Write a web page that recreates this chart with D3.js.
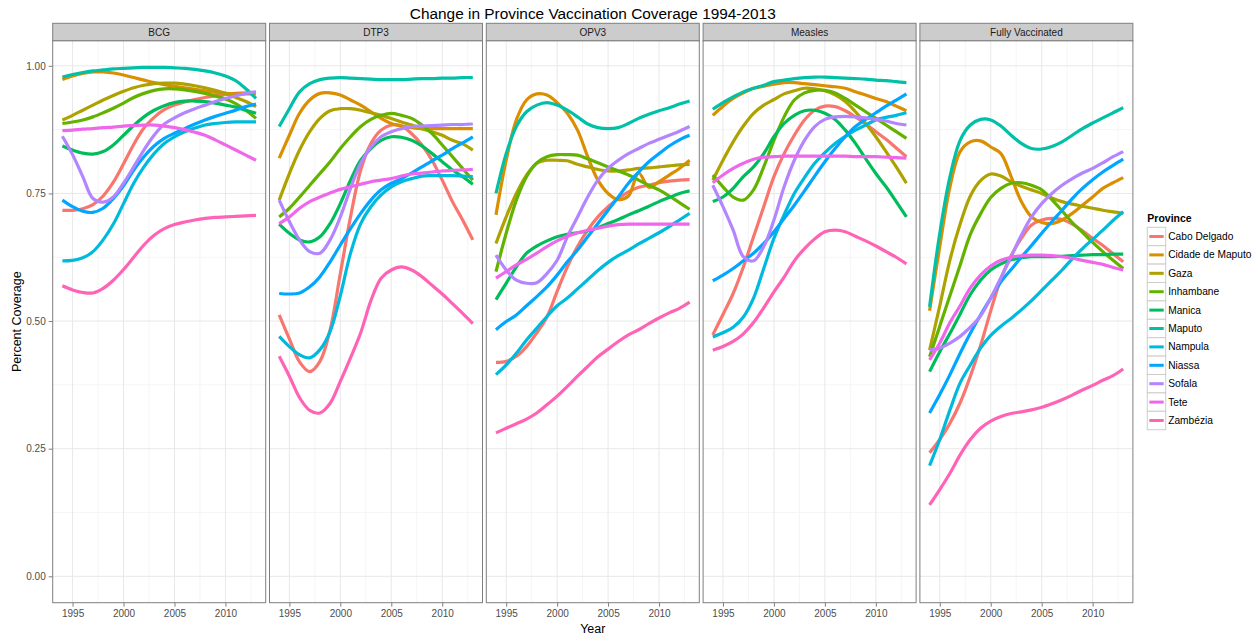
<!DOCTYPE html>
<html>
<head>
<meta charset="utf-8">
<script src="https://cdnjs.cloudflare.com/ajax/libs/d3/7.8.5/d3.min.js"></script>
<style>
  body { margin: 0; background: #fff; }
  text { font-family: "Liberation Sans", Arial, sans-serif; }
</style>
</head>
<body>
<div id="chart"></div>
<script>
// data
const years = [1994, 1995, 1996, 1997, 1998, 1999, 2000, 2001, 2002, 2003,
               2004, 2005, 2006, 2007, 2008, 2009, 2010, 2011, 2012, 2013];

const provinces = ["Cabo Delgado", "Cidade de Maputo", "Gaza", "Inhambane", "Manica",
                   "Maputo", "Nampula", "Niassa", "Sofala", "Tete", "Zambézia"];

const vaccines = ["BCG", "DTP3", "OPV3", "Measles", "Fully Vaccinated"];

const yTicks = [0, 0.25, 0.5, 0.75, 1];
const xTicks = [1995, 2000, 2005, 2010];

// smoothed coverage, one row per province (same order as provinces)
const bcg = [
  [0.717, 0.717, 0.720, 0.728, 0.745, 0.772, 0.808, 0.846, 0.878, 0.899, 0.914, 0.923, 0.929, 0.934, 0.938, 0.941, 0.944, 0.946, 0.947, 0.947],
  [0.973, 0.980, 0.985, 0.988, 0.988, 0.986, 0.982, 0.977, 0.972, 0.967, 0.963, 0.960, 0.957, 0.954, 0.951, 0.948, 0.946, 0.945, 0.945, 0.945],
  [0.894, 0.903, 0.913, 0.923, 0.933, 0.942, 0.950, 0.957, 0.962, 0.965, 0.966, 0.966, 0.964, 0.961, 0.957, 0.952, 0.946, 0.938, 0.930, 0.920],
  [0.887, 0.890, 0.894, 0.900, 0.908, 0.917, 0.927, 0.938, 0.946, 0.952, 0.955, 0.955, 0.953, 0.950, 0.946, 0.941, 0.935, 0.926, 0.913, 0.897],
  [0.843, 0.835, 0.829, 0.827, 0.832, 0.845, 0.864, 0.883, 0.900, 0.913, 0.922, 0.928, 0.931, 0.931, 0.930, 0.927, 0.923, 0.919, 0.913, 0.907],
  [0.978, 0.983, 0.987, 0.990, 0.992, 0.994, 0.995, 0.996, 0.997, 0.997, 0.997, 0.996, 0.995, 0.993, 0.990, 0.986, 0.980, 0.971, 0.955, 0.936],
  [0.618, 0.619, 0.624, 0.636, 0.659, 0.690, 0.730, 0.770, 0.802, 0.828, 0.848, 0.861, 0.871, 0.878, 0.884, 0.887, 0.889, 0.890, 0.890, 0.890],
  [0.737, 0.724, 0.715, 0.713, 0.721, 0.740, 0.765, 0.796, 0.822, 0.843, 0.858, 0.868, 0.877, 0.886, 0.894, 0.901, 0.907, 0.913, 0.920, 0.925],
  [0.862, 0.826, 0.783, 0.740, 0.733, 0.743, 0.770, 0.802, 0.835, 0.864, 0.886, 0.898, 0.908, 0.916, 0.923, 0.930, 0.936, 0.941, 0.946, 0.949],
  [0.873, 0.874, 0.876, 0.877, 0.879, 0.880, 0.882, 0.883, 0.884, 0.884, 0.882, 0.879, 0.875, 0.870, 0.864, 0.855, 0.845, 0.835, 0.825, 0.815],
  [0.569, 0.561, 0.556, 0.555, 0.564, 0.580, 0.601, 0.625, 0.649, 0.668, 0.681, 0.689, 0.694, 0.698, 0.701, 0.703, 0.704, 0.705, 0.706, 0.707]
];

const dtp3 = [
  [0.512, 0.465, 0.420, 0.401, 0.421, 0.483, 0.593, 0.704, 0.796, 0.848, 0.874, 0.884, 0.882, 0.867, 0.845, 0.815, 0.776, 0.734, 0.698, 0.659],
  [0.819, 0.864, 0.907, 0.933, 0.946, 0.947, 0.943, 0.933, 0.923, 0.910, 0.897, 0.887, 0.882, 0.879, 0.877, 0.877, 0.877, 0.877, 0.877, 0.877],
  [0.737, 0.789, 0.835, 0.871, 0.897, 0.912, 0.916, 0.916, 0.913, 0.908, 0.903, 0.897, 0.890, 0.884, 0.877, 0.871, 0.864, 0.854, 0.847, 0.835],
  [0.704, 0.721, 0.743, 0.766, 0.789, 0.812, 0.838, 0.861, 0.881, 0.895, 0.903, 0.907, 0.903, 0.897, 0.884, 0.867, 0.845, 0.822, 0.799, 0.776],
  [0.690, 0.672, 0.659, 0.655, 0.665, 0.691, 0.730, 0.776, 0.815, 0.838, 0.854, 0.861, 0.860, 0.854, 0.843, 0.828, 0.812, 0.796, 0.783, 0.768],
  [0.881, 0.916, 0.949, 0.965, 0.973, 0.976, 0.977, 0.976, 0.975, 0.974, 0.973, 0.973, 0.973, 0.974, 0.975, 0.975, 0.976, 0.976, 0.977, 0.977],
  [0.470, 0.450, 0.434, 0.428, 0.444, 0.480, 0.550, 0.633, 0.691, 0.724, 0.747, 0.763, 0.773, 0.779, 0.784, 0.785, 0.785, 0.785, 0.784, 0.783],
  [0.554, 0.553, 0.555, 0.567, 0.587, 0.616, 0.649, 0.681, 0.711, 0.737, 0.757, 0.770, 0.779, 0.790, 0.802, 0.814, 0.825, 0.838, 0.849, 0.861],
  [0.737, 0.695, 0.659, 0.636, 0.633, 0.659, 0.704, 0.760, 0.809, 0.841, 0.861, 0.871, 0.877, 0.881, 0.882, 0.883, 0.884, 0.885, 0.885, 0.886],
  [0.691, 0.704, 0.721, 0.734, 0.743, 0.751, 0.758, 0.763, 0.768, 0.773, 0.776, 0.779, 0.784, 0.788, 0.790, 0.792, 0.794, 0.795, 0.796, 0.797],
  [0.431, 0.392, 0.350, 0.325, 0.320, 0.339, 0.382, 0.428, 0.477, 0.540, 0.584, 0.600, 0.606, 0.600, 0.587, 0.570, 0.553, 0.534, 0.515, 0.495]
];

const opv3 = [
  [0.419, 0.421, 0.431, 0.450, 0.477, 0.508, 0.558, 0.606, 0.646, 0.678, 0.704, 0.724, 0.740, 0.753, 0.762, 0.766, 0.771, 0.774, 0.776, 0.777],
  [0.708, 0.815, 0.894, 0.933, 0.945, 0.943, 0.928, 0.907, 0.874, 0.822, 0.776, 0.750, 0.738, 0.745, 0.790, 0.762, 0.773, 0.786, 0.799, 0.815],
  [0.652, 0.704, 0.750, 0.786, 0.809, 0.815, 0.815, 0.814, 0.807, 0.802, 0.797, 0.794, 0.794, 0.796, 0.799, 0.800, 0.802, 0.804, 0.806, 0.807],
  [0.597, 0.672, 0.737, 0.783, 0.810, 0.822, 0.826, 0.826, 0.825, 0.818, 0.810, 0.802, 0.794, 0.786, 0.776, 0.766, 0.757, 0.745, 0.732, 0.719],
  [0.542, 0.574, 0.606, 0.633, 0.647, 0.657, 0.665, 0.670, 0.673, 0.677, 0.683, 0.691, 0.699, 0.708, 0.716, 0.725, 0.734, 0.742, 0.750, 0.755],
  [0.750, 0.828, 0.881, 0.910, 0.923, 0.928, 0.923, 0.913, 0.900, 0.886, 0.879, 0.877, 0.879, 0.887, 0.897, 0.905, 0.912, 0.918, 0.925, 0.931],
  [0.395, 0.414, 0.437, 0.463, 0.486, 0.509, 0.530, 0.545, 0.563, 0.581, 0.599, 0.615, 0.628, 0.639, 0.651, 0.662, 0.673, 0.685, 0.698, 0.711],
  [0.483, 0.499, 0.512, 0.530, 0.548, 0.567, 0.590, 0.616, 0.639, 0.665, 0.691, 0.717, 0.743, 0.770, 0.792, 0.812, 0.828, 0.843, 0.855, 0.864],
  [0.629, 0.600, 0.580, 0.574, 0.575, 0.593, 0.619, 0.665, 0.704, 0.743, 0.776, 0.799, 0.815, 0.828, 0.838, 0.848, 0.856, 0.864, 0.872, 0.881],
  [0.584, 0.597, 0.610, 0.621, 0.633, 0.646, 0.657, 0.666, 0.673, 0.678, 0.682, 0.686, 0.689, 0.690, 0.690, 0.690, 0.690, 0.690, 0.690, 0.690],
  [0.281, 0.290, 0.299, 0.308, 0.320, 0.336, 0.353, 0.372, 0.392, 0.411, 0.430, 0.445, 0.460, 0.473, 0.483, 0.495, 0.506, 0.516, 0.525, 0.537]
];

const measles = [
  [0.473, 0.513, 0.554, 0.606, 0.665, 0.724, 0.783, 0.828, 0.864, 0.894, 0.913, 0.921, 0.920, 0.912, 0.900, 0.886, 0.871, 0.856, 0.839, 0.822],
  [0.903, 0.921, 0.936, 0.947, 0.956, 0.960, 0.964, 0.967, 0.967, 0.965, 0.963, 0.961, 0.959, 0.956, 0.949, 0.943, 0.936, 0.930, 0.921, 0.912],
  [0.776, 0.815, 0.851, 0.882, 0.907, 0.923, 0.934, 0.945, 0.951, 0.956, 0.955, 0.951, 0.943, 0.930, 0.910, 0.887, 0.861, 0.832, 0.802, 0.770],
  [0.786, 0.763, 0.743, 0.737, 0.757, 0.802, 0.854, 0.900, 0.933, 0.947, 0.952, 0.952, 0.947, 0.936, 0.923, 0.910, 0.897, 0.884, 0.871, 0.858],
  [0.734, 0.743, 0.760, 0.783, 0.802, 0.828, 0.861, 0.887, 0.903, 0.912, 0.913, 0.907, 0.895, 0.874, 0.848, 0.818, 0.789, 0.763, 0.734, 0.704],
  [0.915, 0.928, 0.939, 0.949, 0.956, 0.962, 0.969, 0.972, 0.975, 0.977, 0.978, 0.978, 0.977, 0.976, 0.975, 0.974, 0.972, 0.971, 0.969, 0.967],
  [0.469, 0.477, 0.488, 0.508, 0.545, 0.603, 0.662, 0.708, 0.750, 0.781, 0.809, 0.830, 0.848, 0.862, 0.874, 0.884, 0.894, 0.899, 0.903, 0.908],
  [0.579, 0.590, 0.603, 0.618, 0.633, 0.652, 0.675, 0.701, 0.727, 0.755, 0.784, 0.812, 0.838, 0.861, 0.881, 0.895, 0.908, 0.921, 0.933, 0.945],
  [0.766, 0.724, 0.678, 0.626, 0.618, 0.646, 0.698, 0.763, 0.815, 0.854, 0.881, 0.895, 0.900, 0.901, 0.900, 0.898, 0.895, 0.892, 0.887, 0.884],
  [0.771, 0.786, 0.799, 0.809, 0.817, 0.821, 0.822, 0.823, 0.823, 0.823, 0.823, 0.823, 0.823, 0.823, 0.822, 0.822, 0.822, 0.821, 0.820, 0.819],
  [0.443, 0.450, 0.460, 0.475, 0.497, 0.526, 0.557, 0.586, 0.618, 0.642, 0.661, 0.675, 0.678, 0.675, 0.666, 0.657, 0.647, 0.636, 0.625, 0.612]
];

const fully = [
  [0.242, 0.268, 0.300, 0.340, 0.392, 0.452, 0.520, 0.583, 0.628, 0.662, 0.688, 0.698, 0.701, 0.699, 0.690, 0.677, 0.662, 0.648, 0.632, 0.616],
  [0.520, 0.646, 0.763, 0.832, 0.851, 0.853, 0.841, 0.828, 0.783, 0.734, 0.704, 0.693, 0.691, 0.698, 0.711, 0.727, 0.743, 0.760, 0.771, 0.781],
  [0.443, 0.530, 0.620, 0.690, 0.745, 0.775, 0.788, 0.784, 0.773, 0.764, 0.757, 0.750, 0.741, 0.734, 0.729, 0.725, 0.721, 0.717, 0.714, 0.711],
  [0.430, 0.490, 0.550, 0.610, 0.670, 0.710, 0.742, 0.760, 0.770, 0.771, 0.766, 0.757, 0.738, 0.716, 0.693, 0.674, 0.654, 0.636, 0.619, 0.603],
  [0.401, 0.440, 0.476, 0.514, 0.552, 0.580, 0.600, 0.612, 0.620, 0.624, 0.626, 0.626, 0.626, 0.627, 0.628, 0.629, 0.630, 0.630, 0.631, 0.631],
  [0.528, 0.672, 0.783, 0.854, 0.884, 0.895, 0.894, 0.882, 0.864, 0.848, 0.838, 0.837, 0.842, 0.851, 0.864, 0.877, 0.888, 0.898, 0.908, 0.918],
  [0.217, 0.268, 0.326, 0.379, 0.414, 0.447, 0.472, 0.490, 0.505, 0.522, 0.540, 0.560, 0.580, 0.600, 0.622, 0.642, 0.660, 0.678, 0.697, 0.714],
  [0.320, 0.356, 0.395, 0.437, 0.476, 0.512, 0.545, 0.577, 0.601, 0.625, 0.648, 0.672, 0.695, 0.717, 0.740, 0.760, 0.777, 0.792, 0.805, 0.817],
  [0.443, 0.447, 0.457, 0.470, 0.488, 0.510, 0.545, 0.585, 0.626, 0.668, 0.704, 0.730, 0.750, 0.766, 0.779, 0.790, 0.799, 0.810, 0.822, 0.832],
  [0.424, 0.457, 0.497, 0.530, 0.565, 0.590, 0.608, 0.619, 0.625, 0.628, 0.629, 0.629, 0.628, 0.626, 0.623, 0.619, 0.615, 0.611, 0.605, 0.600],
  [0.140, 0.170, 0.202, 0.238, 0.268, 0.290, 0.304, 0.313, 0.319, 0.322, 0.326, 0.331, 0.338, 0.346, 0.355, 0.365, 0.374, 0.384, 0.393, 0.406]
];

const panelValues = [bcg, dtp3, opv3, measles, fully];

// ggplot default hue palette for 11 groups
const palette = ["#F8766D", "#DB8E00", "#AEA200", "#64B200", "#00BD5C", "#00C1A7",
                 "#00BADE", "#00A6FF", "#B385FF", "#EF67EB", "#FF63B6"];

// setup dimensions
const width = 1260;
const height = 636;
const panelLeft = 52.7;
const panelW = 213;
const panelStep = 216.8;
const stripTop = 23.3;
const panelTop = 40.7;
const panelBottom = 602.7;

const svg = d3.select("#chart")
  .append("svg")
  .attr("width", width)
  .attr("height", height);

svg.append("rect").attr("width", width).attr("height", height).attr("fill", "#fff");

const x = d3.scaleLinear().domain([1993.05, 2013.95]).range([0, panelW]);
const y = d3.scaleLinear().domain([-0.0517, 1.0492]).range([panelBottom, panelTop]);
const color = d3.scaleOrdinal().domain(provinces).range(palette);

const line = d3.line()
  .x((d) => x(d.year))
  .y((d) => y(d.value))
  .curve(d3.curveCatmullRom.alpha(0.5));

// title
svg.append("text")
  .attr("x", panelLeft + (4 * panelStep + panelW) / 2)
  .attr("y", 19)
  .attr("text-anchor", "middle")
  .attr("fill", "#000")
  .style("font-size", "15.4px")
  .text("Change in Province Vaccination Coverage 1994-2013");

vaccines.forEach((vac, i) => {
  const g = svg.append("g")
    .attr("transform", `translate(${panelLeft + i * panelStep},0)`);

  // minor grid
  const minorX = [1997.5, 2002.5, 2007.5, 2012.5];
  const minorY = [0.125, 0.375, 0.625, 0.875];
  g.selectAll("line.minor-x").data(minorX).join("line")
    .attr("x1", (d) => x(d)).attr("x2", (d) => x(d))
    .attr("y1", panelTop).attr("y2", panelBottom)
    .attr("stroke", "#F5F5F5").attr("stroke-width", 1);
  g.selectAll("line.minor-y").data(minorY).join("line")
    .attr("x1", 0).attr("x2", panelW)
    .attr("y1", (d) => y(d)).attr("y2", (d) => y(d))
    .attr("stroke", "#F5F5F5").attr("stroke-width", 1);

  // major grid
  g.append("g").selectAll("line").data(xTicks).join("line")
    .attr("x1", (d) => x(d)).attr("x2", (d) => x(d))
    .attr("y1", panelTop).attr("y2", panelBottom)
    .attr("stroke", "#E8E8E8").attr("stroke-width", 1);
  g.append("g").selectAll("line").data(yTicks).join("line")
    .attr("x1", 0).attr("x2", panelW)
    .attr("y1", (d) => y(d)).attr("y2", (d) => y(d))
    .attr("stroke", "#E8E8E8").attr("stroke-width", 1);

  // smoothed lines
  const rows = panelValues[i];
  g.selectAll("path.series")
    .data(provinces.map((p, j) => ({
      province: p,
      points: years.map((yr, k) => ({ year: yr, value: rows[j][k] }))
    })))
    .join("path")
    .attr("class", "series")
    .attr("fill", "none")
    .attr("stroke", (d) => color(d.province))
    .attr("stroke-width", 3.2)
    .attr("stroke-linejoin", "round")
    .attr("d", (d) => line(d.points));

  // panel border
  g.append("rect")
    .attr("x", 0).attr("y", panelTop)
    .attr("width", panelW).attr("height", panelBottom - panelTop)
    .attr("fill", "none").attr("stroke", "#7F7F7F").attr("stroke-width", 1);

  // strip
  g.append("rect")
    .attr("x", 0).attr("y", stripTop)
    .attr("width", panelW).attr("height", panelTop - stripTop)
    .attr("fill", "#CCCCCC").attr("stroke", "#7F7F7F").attr("stroke-width", 1);
  g.append("text")
    .attr("x", panelW / 2).attr("y", (stripTop + panelTop) / 2 + 3.5)
    .attr("text-anchor", "middle")
    .attr("fill", "#1a1a1a")
    .style("font-size", "10px")
    .text(vac);

  // x axis
  const xAxisG = g.append("g")
    .attr("transform", `translate(0,${panelBottom})`)
    .call(d3.axisBottom(x).tickValues(xTicks).tickFormat(d3.format("d")).tickSize(4).tickPadding(3));
  xAxisG.select(".domain").remove();
  xAxisG.selectAll("line").attr("stroke", "#7F7F7F");
  xAxisG.selectAll("text")
    .attr("fill", "#4D4D4D")
    .style("font-size", "10px")
    .style("font-family", "'Liberation Sans', Arial, sans-serif");
});

// y axis
const yAxisG = svg.append("g")
  .attr("transform", `translate(${panelLeft},0)`)
  .call(d3.axisLeft(y).tickValues(yTicks).tickFormat(d3.format(".2f")).tickSize(4).tickPadding(3));
yAxisG.select(".domain").remove();
yAxisG.selectAll("line").attr("stroke", "#7F7F7F");
yAxisG.selectAll("text")
  .attr("fill", "#4D4D4D")
  .style("font-size", "10px")
  .style("font-family", "'Liberation Sans', Arial, sans-serif");

// axis titles
svg.append("text")
  .attr("x", panelLeft + (4 * panelStep + panelW) / 2)
  .attr("y", 633)
  .attr("text-anchor", "middle")
  .attr("fill", "#000")
  .style("font-size", "12.5px")
  .text("Year");

svg.append("text")
  .attr("transform", `translate(21,${(panelTop + panelBottom) / 2}) rotate(-90)`)
  .attr("text-anchor", "middle")
  .attr("fill", "#000")
  .style("font-size", "12.5px")
  .text("Percent Coverage");

// legend
const legend = svg.append("g").attr("transform", "translate(1147.3,0)");
legend.append("text")
  .attr("x", 0).attr("y", 222)
  .attr("fill", "#000")
  .style("font-size", "10.5px")
  .style("font-weight", "bold")
  .text("Province");

const keySize = 18.4;
const keyTop = 227.3;
const items = legend.selectAll("g.item").data(provinces).join("g")
  .attr("class", "item")
  .attr("transform", (d, i) => `translate(0,${keyTop + i * keySize})`);
items.append("rect")
  .attr("width", keySize).attr("height", keySize)
  .attr("fill", "#fff").attr("stroke", "#CCCCCC").attr("stroke-width", 1);
items.append("line")
  .attr("x1", 2).attr("x2", keySize - 2)
  .attr("y1", keySize / 2).attr("y2", keySize / 2)
  .attr("stroke", (d) => color(d)).attr("stroke-width", 3);
items.append("text")
  .attr("x", keySize + 2.5).attr("y", keySize / 2 + 3.6)
  .attr("fill", "#000")
  .style("font-size", "10.2px")
  .text((d) => d);
</script>
</body>
</html>
